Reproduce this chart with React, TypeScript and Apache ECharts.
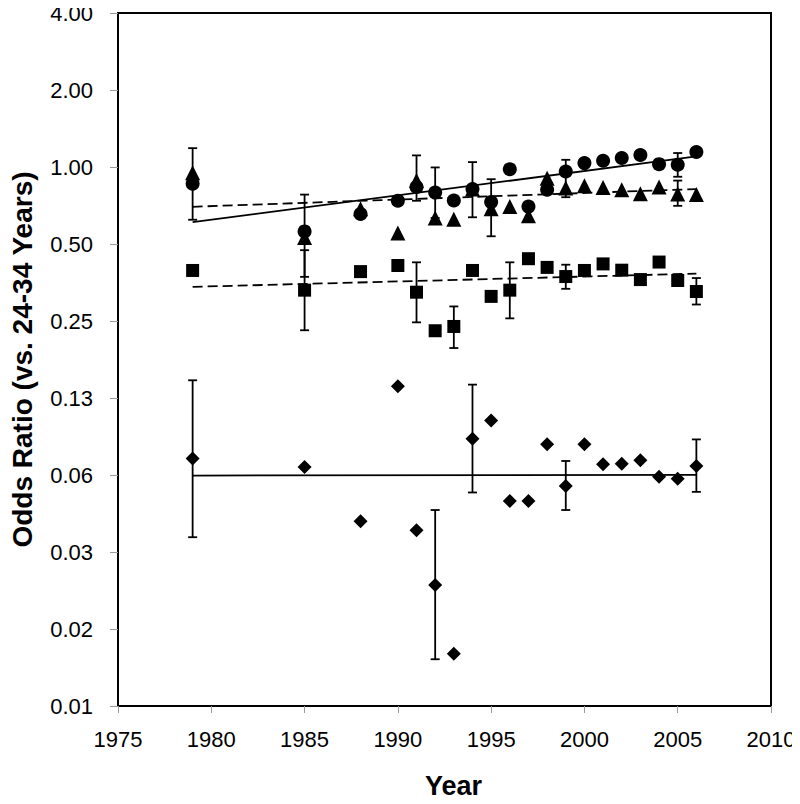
import React, { useEffect, useRef } from "react";
import * as echarts from "echarts";

const years = [1979, 1985, 1988, 1990, 1991, 1992, 1993, 1994, 1995, 1996, 1997, 1998, 1999, 2000, 2001, 2002, 2003, 2004, 2005, 2006];

const circleVals = [0.86, 0.56, 0.655, 0.738, 0.835, 0.795, 0.74, 0.82, 0.729, 0.98, 0.70, 0.815, 0.96, 1.036, 1.058, 1.084, 1.114, 1.026, 1.02, 1.145];
const triangleVals = [0.95, 0.53, 0.687, 0.552, 0.885, 0.632, 0.625, 0.82, 0.687, 0.70, 0.645, 0.904, 0.828, 0.845, 0.832, 0.815, 0.786, 0.835, 0.784, 0.78];
const squareVals = [0.394, 0.33, 0.39, 0.412, 0.324, 0.229, 0.238, 0.394, 0.312, 0.33, 0.438, 0.405, 0.373, 0.394, 0.418, 0.395, 0.363, 0.425, 0.36, 0.326];
const diamondVals = [0.0725, 0.0672, 0.0412, 0.139, 0.038, 0.0232, 0.0125, 0.0867, 0.102, 0.0495, 0.0495, 0.0824, 0.0566, 0.0824, 0.0688, 0.0692, 0.0713, 0.0615, 0.0604, 0.0678];

// [year, low, high]
const circleErr = [[1979, 0.622, 1.185], [1992, 0.632, 0.996], [1994, 0.636, 1.045], [1999, 0.762, 1.067], [2005, 0.916, 1.134]];
const triangleErr = [[1985, 0.372, 0.78], [1991, 0.738, 1.11], [1995, 0.536, 0.896], [2005, 0.705, 0.885]];
const squareErr = [[1985, 0.23, 0.473], [1991, 0.247, 0.424], [1993, 0.196, 0.285], [1996, 0.256, 0.424], [1999, 0.334, 0.415], [2006, 0.29, 0.368]];
const diamondErr = [[1979, 0.0357, 0.1466], [1992, 0.0119, 0.0456], [1994, 0.0534, 0.141], [1999, 0.0456, 0.0709], [2006, 0.0537, 0.0861]];

// trend line endpoints [start, end]
const trendYears = [1979, 2006];
const circleTrend = [0.609, 1.10];
const triangleTrend = [0.699, 0.82];
const squareTrend = [0.34, 0.383];
const diamondTrend = [0.0622, 0.0626];

const FONT = "'Liberation Sans', Arial, sans-serif";

function pts(vals: number[]) {
  return years.map((y, i) => [y, vals[i]]);
}

function trend(vals: number[]) {
  return trendYears.map((y, i) => [y, vals[i]]);
}

function errSeries(data: number[][]) {
  return {
    type: "custom",
    data,
    encode: { x: 0, y: [1, 2] },
    z: 3,
    renderItem: (params: any, api: any) => {
      const x = api.value(0);
      const lo = api.coord([x, api.value(1)]);
      const hi = api.coord([x, api.value(2)]);
      const cw = 4.5;
      const style = { stroke: "#000", lineWidth: 1.8 };
      return {
        type: "group",
        children: [
          { type: "line", shape: { x1: lo[0], y1: lo[1], x2: hi[0], y2: hi[1] }, style },
          { type: "line", shape: { x1: hi[0] - cw, y1: hi[1], x2: hi[0] + cw, y2: hi[1] }, style },
          { type: "line", shape: { x1: lo[0] - cw, y1: lo[1], x2: lo[0] + cw, y2: lo[1] }, style },
        ],
      };
    },
  };
}

function lineSeries(data: number[][], dashed: boolean) {
  return {
    type: "line",
    data: data,
    symbol: "none",
    z: 2,
    lineStyle: { color: "#000", width: 1.8, type: dashed ? [10, 5] : "solid" },
  };
}

function scatter(data: number[][], symbol: string, size: number) {
  return {
    type: "scatter",
    data,
    symbol,
    symbolSize: size,
    z: 4,
    itemStyle: { color: "#000", opacity: 1 },
  };
}

export default function App() {
  const ref = useRef<HTMLDivElement>(null);
  useEffect(() => {
    if (!ref.current) return;
    const chart = echarts.init(ref.current, null, { renderer: "svg" });
    chart.setOption({
      animation: false,
      backgroundColor: "#fff",
      grid: {
        left: 115,
        right: 29,
        top: 13,
        bottom: 97,
        show: true,
        borderColor: "#000",
        borderWidth: 2,
        backgroundColor: "transparent",
      },
      xAxis: {
        type: "value",
        min: 1975,
        max: 2010,
        interval: 5,
        name: "Year",
        nameLocation: "middle",
        nameGap: 66,
        nameTextStyle: { fontFamily: FONT, fontWeight: "bold", fontSize: 27, color: "#000", padding: [0, 0, 0, 18] },
        axisLine: { show: true, onZero: false, lineStyle: { color: "#000", width: 2 } },
        axisTick: { show: true, length: 7, lineStyle: { color: "#999", width: 1 } },
        axisLabel: {
          fontFamily: FONT,
          fontSize: 22,
          color: "#000",
          margin: 22,
          formatter: (v: number) => String(v),
        },
        splitLine: { show: false },
      },
      yAxis: {
        type: "log",
        logBase: 2,
        min: 0.0078125,
        max: 4,
        splitNumber: 9,
        name: "Odds Ratio (vs. 24-34 Years)",
        nameLocation: "middle",
        nameGap: 82,
        nameTextStyle: { fontFamily: FONT, fontWeight: "bold", fontSize: 28, color: "#000" },
        axisLine: { show: true, onZero: false, lineStyle: { color: "#000", width: 2 } },
        axisTick: { show: true, length: 8, lineStyle: { color: "#999", width: 1 } },
        axisLabel: {
          fontFamily: FONT,
          fontSize: 22,
          color: "#000",
          margin: 25,
          formatter: (v: number) => v.toFixed(2),
        },
        splitLine: { show: false },
      },
      series: [
        lineSeries(trend(circleTrend), false),
        lineSeries(trend(triangleTrend), true),
        lineSeries(trend(squareTrend), true),
        lineSeries(trend(diamondTrend), false),
        errSeries(circleErr),
        errSeries(triangleErr),
        errSeries(squareErr),
        errSeries(diamondErr),
        scatter(pts(triangleVals), "triangle", 15),
        scatter(pts(circleVals), "circle", 14),
        scatter(pts(squareVals), "rect", 13),
        scatter(pts(diamondVals), "diamond", 14),
      ],
    });
    return () => chart.dispose();
  }, []);
  return <div ref={ref} style={{ width: 800, height: 804, margin: -8 }} />;
}
